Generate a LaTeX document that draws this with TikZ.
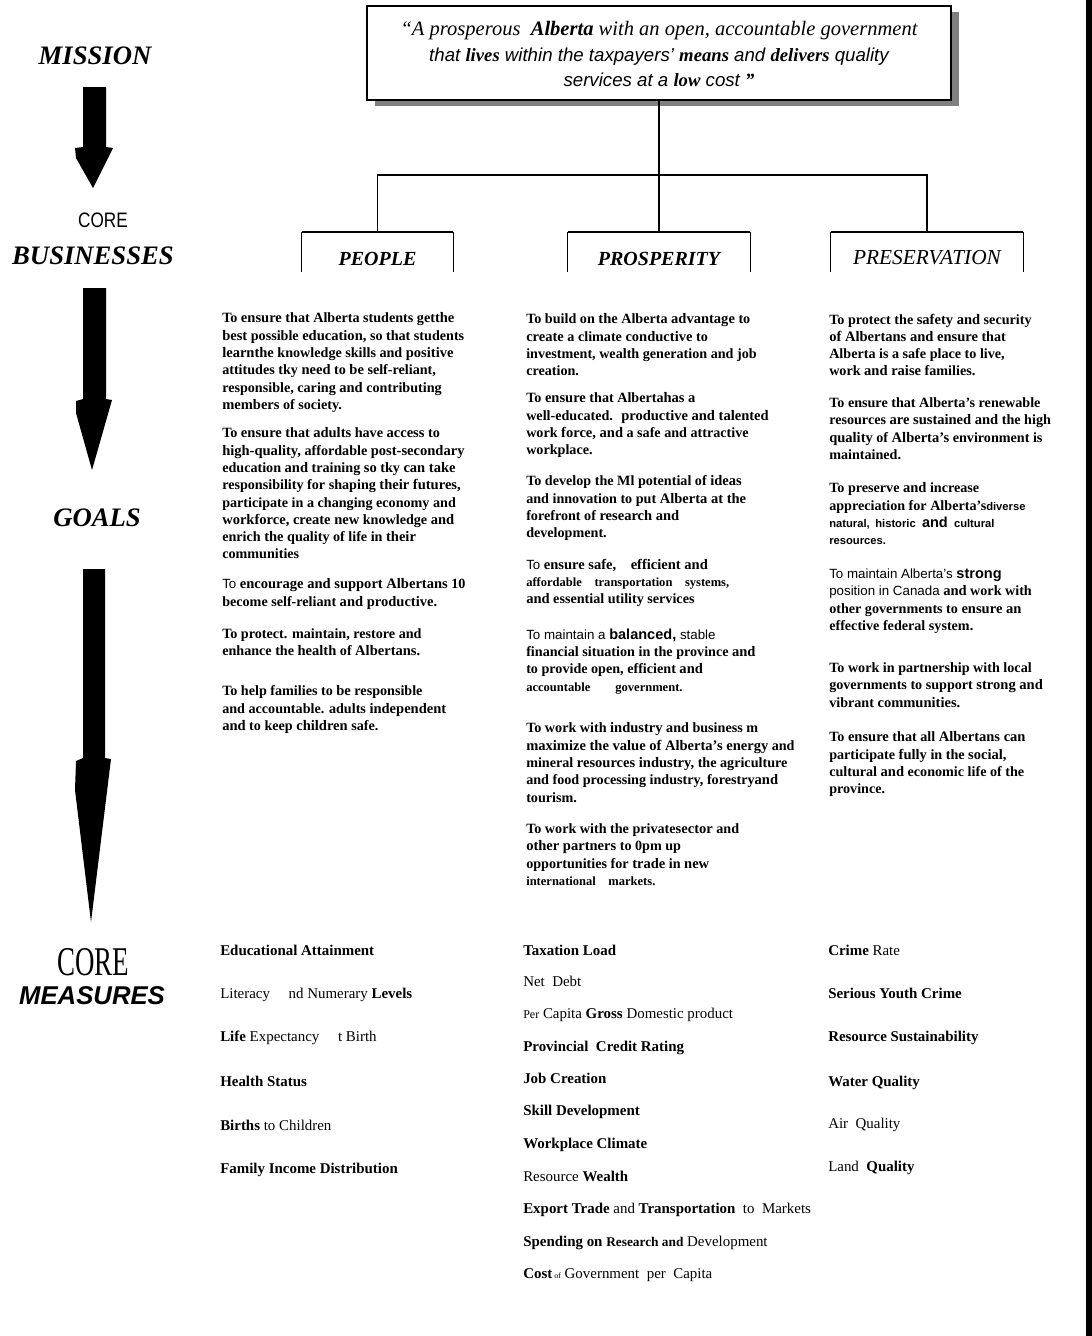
\documentclass[tikz,border=0pt]{standalone}
\usepackage{fontspec}
\setmainfont{Liberation Serif}
\setsansfont{Liberation Sans}
\newfontfamily\condsans[FakeStretch=0.82]{Liberation Sans}
\newfontfamily\condserif[FakeStretch=0.66]{Liberation Serif}
% word styles used inside the goal paragraphs
\newcommand{\altw}[1]{{\bfseries\fontsize{10.9}{12.97}\selectfont #1}}
\newcommand{\sanw}[1]{{\sffamily\mdseries\fontsize{10}{12.97}\selectfont #1}}
\newcommand{\smsw}[1]{{\sffamily\bfseries\fontsize{8.4}{12.97}\selectfont #1}}
\newcommand{\smw}[1]{{\fontsize{9.4}{12.97}\selectfont #1}}
\begin{document}
\begin{tikzpicture}[x=0.75pt,y=-0.75pt,
  goal/.style={anchor=north west,inner sep=0pt,align=left,
    font=\fontsize{10.6}{12.97}\selectfont\bfseries},
  meas/.style={anchor=west,inner sep=0pt,text height=8pt,text depth=2.4pt,
    font=\fontsize{11.2}{13}\selectfont},
  lbl/.style={inner sep=0pt,font=\fontsize{20}{24}\selectfont\bfseries\itshape},
  catbox/.style={minimum width=#1*0.75pt,minimum height=30pt,inner sep=0pt},
  cattext/.style={inner sep=0pt},
  side/.style={line width=0.9pt},
  topline/.style={line width=1.5pt},
  conn/.style={line width=0.9pt},
  bigarrow/.style={fill=black},
  shade/.style={fill=black!50}
]
\useasboundingbox (0,0) rectangle (1092,1336);
\fill[white] (0,0) rectangle (1092,1336);
% dark strip along the right edge of the sheet
\fill[black] (1086,0) rectangle (1092,1336);

% ---------------- mission statement box ----------------
\fill[shade] (375,12) rectangle (959,106);
\node[draw,line width=1.2pt,fill=white,minimum width=584*0.75pt,
      minimum height=94*0.75pt,inner sep=0pt] (mission) at (659,53) {};
\node[inner sep=0pt,font=\fontsize{15.4}{18}\selectfont\itshape] (m1) at (659,31)
  {“A prosperous \ \textbf{Alberta} with an open, accountable government};
\node[inner sep=0pt,font=\fontsize{14}{17}\selectfont\sffamily\itshape] (m2) at (659,57)
  {that {\rmfamily\bfseries lives} within the taxpayers’ {\rmfamily\bfseries means} and {\rmfamily\bfseries delivers} quality};
\node[inner sep=0pt,font=\fontsize{14}{17}\selectfont\sffamily\itshape] (m3) at (659,80)
  {services at a {\rmfamily\bfseries low} cost {\rmfamily\bfseries "}};

% ---------------- core business boxes ----------------
\node[catbox=151] (people) at (377.5,252) {};
\node[catbox=182] (prosperity) at (659,252) {};
\node[catbox=192] (preservation) at (927,252) {};
\foreach \b in {people,prosperity,preservation}{
  \draw[side] (\b.south west) -- (\b.north west);
  \draw[side] (\b.south east) -- (\b.north east);
  \draw[topline] (\b.north west) -- (\b.north east);
}
\node[cattext,font=\fontsize{15}{18}\selectfont\bfseries\itshape] (peopleL) at (377.5,259) {PEOPLE};
\node[cattext,font=\fontsize{15}{18}\selectfont\bfseries\itshape] (prosperityL) at (659,259) {PROSPERITY};
\node[cattext,font=\fontsize{16}{18}\selectfont\itshape] (preservationL) at (927,258) {PRESERVATION};

% connectors from the mission to the three businesses
\coordinate (bar) at (659,175);
\draw[conn] (mission.south) -- (bar);
\draw[conn] (people.north) |- (bar) -| (preservation.north);
\draw[conn] (bar) -- (prosperity.north);

% ---------------- left-hand labels and arrows ----------------
\node[lbl] (lmission) at (95,56) {MISSION};
\node[inner sep=0pt,font=\fontsize{15.7}{18}\selectfont\condsans] (lcore) at (103,220) {CORE};
\node[lbl] (lbus) at (93,256) {BUSINESSES};
\node[lbl] (lgoals) at (97,518) {GOALS};
\node[inner sep=0pt,font=\fontsize{30.6}{32}\selectfont\condserif] (lcore2) at (93,962) {CORE};
\node[inner sep=0pt,font=\fontsize{19.3}{22}\selectfont\sffamily\bfseries\itshape] (lmeas) at (92,996) {MEASURES};

\fill[bigarrow] (83,87) -- (106,87) -- (106,147) -- (113,148) -- (93,188)
  -- (76,158) -- (75,148) -- (83,147) -- cycle;
\fill[bigarrow] (83,288) -- (106,288) -- (106,399) -- (112,400) -- (92,470)
  -- (76,413) -- (76,401) -- (83,399) -- cycle;
\fill[bigarrow] (83,569) -- (105,569) -- (105,758) -- (111,759) -- (91,922)
  -- (75,790) -- (76,761) -- (83,758) -- cycle;

% ---------------- goals: people ----------------
\node[goal] (g11) at (222,312.5) {To \altw{ensure} that Alberta students get\altw{the}\\
\altw{best} possible \altw{education,} so that students\\
\altw{learnthe} knowledge skills and \altw{positive}\\
attitudes tky \altw{need} to \altw{be} self-reliant,\\
responsible, caring \altw{and} contributing\\
\altw{members} of society.};
\node[goal] (g12) at (222,427.5) {To \altw{ensure} that \altw{adults} have \altw{access} to\\
\altw{high-quality,} affordable \altw{post-secondary}\\
education \altw{and} training \altw{so} tky \altw{can take}\\
responsibility for shaping \altw{their futures,}\\
participate in a changing economy and\\
\altw{workforce, create new} knowledge \altw{and}\\
enrich \altw{the} quality of life in \altw{their}\\
communities};
\node[goal] (g13) at (222,578.5) {\sanw{To} \altw{encourage and support Albertans} 10\\
become self-reliant \altw{and productive.}};
\node[goal] (g14) at (222,628.5) {To protect. maintain, restore and\\
enhance the \altw{health} of \altw{Albertans.}};
\node[goal] (g15) at (222,685.5) {To help families to \altw{be} responsible\\
and accountable. adults \altw{independent}\\
\altw{and} to keep \altw{children} safe.};

% ---------------- goals: prosperity ----------------
\node[goal] (g21) at (526,313.5) {To build on \altw{the} Alberta \altw{advantage} to\\
\altw{create} a climate \altw{conductive} to\\
investment, wealth generation and job\\
creation.};
\node[goal] (g22) at (526,392.5) {To \altw{ensure} that Alberta\altw{has a}\\
well-educated. \ \altw{productive and talented}\\
work \altw{force, and} a safe and attractive\\
workplace.};
\node[goal] (g23) at (526,475.5) {To develop the Ml potential of \altw{ideas}\\
and innovation to put \altw{Alberta at the}\\
forefront of \altw{research and}\\
development.};
\node[goal] (g24) at (526,558.5) {\sanw{To} \altw{ensure safe,\quad efficient and}\\
\smw{affordable\quad transportation\quad systems,}\\
\altw{and} essential utility services};
\node[goal] (g25) at (526,628.5) {\sanw{To maintain a \altw{balanced,} stable}\\
financial situation in the province \altw{and}\\
to provide open, efficient \altw{and}\\
\smw{accountable\qquad government.}};
\node[goal] (g26) at (526,722.5) {To work with \altw{industry} and business m\\
\altw{maximize the value of Alberta's energy} and\\
mineral \altw{resources industry,} the agriculture\\
and food processing industry, forestry\altw{and}\\
tourism.};
\node[goal] (g27) at (526,823.5) {To work with the private\altw{sector} and\\
\altw{other partners} to 0pm up\\
opportunities for \altw{trade} in \altw{new}\\
\smw{international\quad markets.}};

% ---------------- goals: preservation ----------------
\node[goal] (g31) at (829,313.5) {To protect the \altw{safety and} security\\
\altw{of Albertans and ensure} that\\
Alberta is a safe place to live,\\
work \altw{and raise} families.};
\node[goal] (g32) at (829,397.5) {To ensure that Alberta’s renewable\\
resources \altw{are sustained and} the high\\
\altw{quality} of \altw{Alberta's} environment is\\
maintained.};
\node[goal] (g33) at (829,482.5) {To preserve \altw{and} increase\\
appreciation for Alberta’s\smsw{diverse}\\
\smsw{natural,\enspace historic \ \altw{and} \ cultural}\\
\smsw{resources.}};
\node[goal] (g34) at (829,568.5) {\sanw{To maintain Alberta's \altw{strong}}\\
\sanw{position in Canada} \altw{and} work with\\
other governments to \altw{ensure an}\\
effective federal system.};
\node[goal] (g35) at (829,662.5) {To work in partnership with local\\
governments to support \altw{strong and}\\
vibrant \altw{communities.}};
\node[goal] (g36) at (829,731.5) {To \altw{ensure} that all \altw{Albertans can}\\
participate \altw{fully} in the \altw{social,}\\
cultural \altw{and} economic life of the\\
province.};

% ---------------- core measures ----------------
\node[meas] (c11) at (220,952) {\textbf{Educational Attainment}};
\node[meas] (c12) at (220,995) {Literacy \quad nd Numerary \textbf{Levels}};
\node[meas] (c13) at (220,1038) {\textbf{Life} Expectancy \quad t Birth};
\node[meas] (c14) at (220,1083) {\textbf{Health Status}};
\node[meas] (c15) at (220,1127) {\textbf{Births} to Children};
\node[meas] (c16) at (220,1170) {\textbf{Family Income Distribution}};

\node[meas] (c21) at (523,952) {\textbf{Taxation Load}};
\node[meas] (c22) at (523,983) {Net \ Debt};
\node[meas] (c23) at (523,1015) {{\fontsize{9}{11}\selectfont Per} Capita \textbf{Gross} Domestic product};
\node[meas] (c24) at (523,1048) {\textbf{Provincial \ Credit Rating}};
\node[meas] (c25) at (523,1080) {\textbf{Job Creation}};
\node[meas] (c26) at (523,1112) {\textbf{Skill Development}};
\node[meas] (c27) at (523,1145) {\textbf{Workplace Climate}};
\node[meas] (c28) at (523,1178) {Resource \textbf{Wealth}};
\node[meas] (c29) at (523,1210) {\textbf{Export Trade} and \textbf{Transportation} \ to \ Markets};
\node[meas] (c2a) at (523,1243) {\textbf{Spending on {\fontsize{10}{12}\selectfont Research and}} Development};
\node[meas] (c2b) at (523,1275) {\textbf{Cost}{\fontsize{6}{7}\selectfont\ of} Government \ per \ Capita};

\node[meas] (c31) at (828,952) {\textbf{Crime} Rate};
\node[meas] (c32) at (828,995) {\textbf{Serious Youth Crime}};
\node[meas] (c33) at (828,1038) {\textbf{Resource Sustainability}};
\node[meas] (c34) at (828,1083) {\textbf{Water Quality}};
\node[meas] (c35) at (828,1125) {Air \ Quality};
\node[meas] (c36) at (828,1168) {Land \ \textbf{Quality}};
\end{tikzpicture}
\end{document}
